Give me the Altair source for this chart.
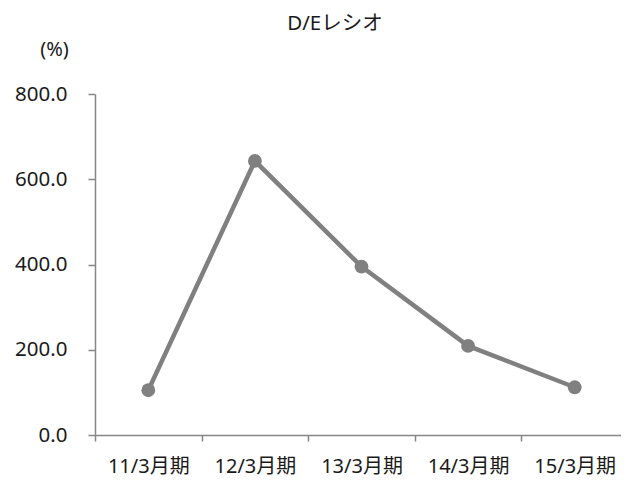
import altair as alt
import pandas as pd

periods = ["11/3月期", "12/3月期", "13/3月期", "14/3月期", "15/3月期"]
de_ratio = [105.0, 643.0, 395.0, 209.0, 112.0]
y_ticks = [0, 200, 400, 600, 800]
chart_title = ["D/Eレシオ"]

df = pd.DataFrame({"period": periods, "value": de_ratio})
title_df = pd.DataFrame({"t": chart_title})

FONT = "Noto Sans, Noto Sans CJK JP"
GRAY = "#808080"
AXIS_GRAY = "#868686"
TEXT = "#1a1a1a"

x_enc = alt.X(
    "period:N",
    sort=periods,
    scale=alt.Scale(type="band", paddingInner=0, paddingOuter=0, range=[0, 533]),
    axis=alt.Axis(
        title=None, labelAngle=0, tickBand="extent", labelFont=FONT,
        labelFontSize=20, labelColor=TEXT, labelPadding=15,
        domainColor=AXIS_GRAY, tickColor=AXIS_GRAY, tickSize=6, grid=False,
        domainWidth=1.5, tickWidth=1.5, labelBaseline="top",
    ),
)
y_enc = alt.Y(
    "value:Q",
    scale=alt.Scale(domain=[0, 800], nice=False),
    axis=alt.Axis(
        values=y_ticks, format=".1f", grid=False, labelFont=FONT,
        labelFontSize=20.5, labelColor=TEXT, labelPadding=21,
        domainColor=AXIS_GRAY, tickColor=AXIS_GRAY, tickSize=7,
        domainWidth=1.5, tickWidth=1.5,
        title="(%)", titleAngle=0, titleFont=FONT, titleFontSize=20,
        titleFontWeight="normal", titleColor=TEXT,
        titleX=-41, titleY=-45, titleAlign="center", titleBaseline="middle",
    ),
)

base = alt.Chart(df).encode(x=x_enc, y=y_enc)
line = base.mark_line(color=GRAY, strokeWidth=4.5)
pts = base.mark_circle(color=GRAY, size=190, opacity=1)

title_mark = alt.Chart(title_df).mark_text(
    font=FONT, fontSize=20.5, color=TEXT, align="center", baseline="middle"
).encode(text="t:N", x=alt.value(240), y=alt.value(-70))

chart = (line + pts + title_mark).properties(
    width=526,
    height=341,
    autosize=alt.AutoSizeParams(type="none"),
    padding={"left": 87, "top": 86, "right": 0, "bottom": 43},
).configure_view(stroke=None)

chart.save("out.html", embed_options={"renderer": "svg", "actions": False})
